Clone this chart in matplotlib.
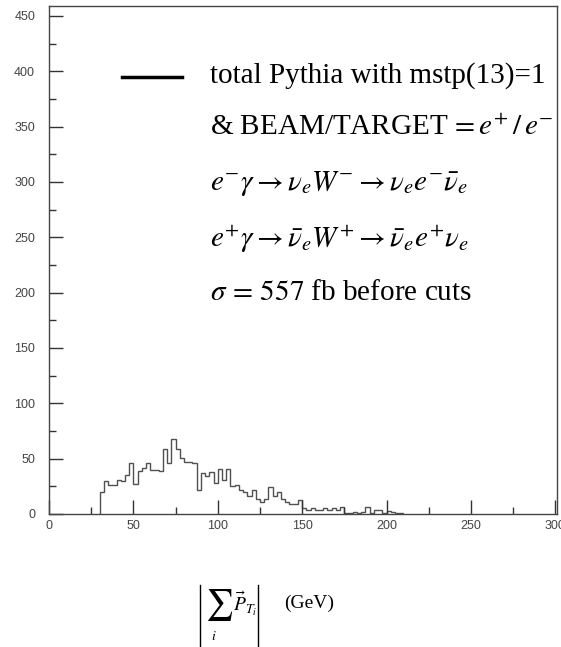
import numpy as np
import matplotlib
matplotlib.use("Agg")
import matplotlib.pyplot as plt
from matplotlib.lines import Line2D
from matplotlib.ticker import MultipleLocator

plt.rcParams["mathtext.fontset"] = "stix"

# Histogram of |sum p_T| in 2.5 GeV bins starting at 30 GeV
bin_start = 30.0
bin_width = 2.5
counts = [
    20, 30, 26, 26, 31, 30, 35, 46, 27, 39, 42, 46,
    40, 40, 39, 59, 46, 68, 59, 51, 47, 47, 46, 22,
    37, 34, 38, 28, 41, 31, 41, 25, 26, 22, 20, 16,
    22, 14, 11, 14, 24, 16, 20, 14, 11, 9, 9, 13,
    5, 4, 5, 4, 4, 5, 4, 5, 4, 6, 1, 1,
    2, 1, 2, 6, 1, 4, 4, 1, 3, 2, 1, 1,
]
edges = bin_start + bin_width * np.arange(len(counts) + 1)

legend_lines = [
    "total Pythia with mstp(13)=1",
    r"& BEAM/TARGET$\,=e^{+}\,/\,e^{-}$",
    r"$e^{-}\gamma \rightarrow \nu_{e}W^{-} \rightarrow \nu_{e}e^{-}\bar{\nu}_{e}$",
    r"$e^{+}\gamma \rightarrow \bar{\nu}_{e}W^{+} \rightarrow \bar{\nu}_{e}e^{+}\nu_{e}$",
    r"$\sigma\, =\, 557$ fb before cuts",
]

W, H = 561, 647
fig = plt.figure(figsize=(W / 100, H / 100), dpi=100)
ax = fig.add_axes([49 / W, 1 - 514 / H, (557 - 49) / W, (514 - 6) / H])

ax.stairs(counts, edges, color="#505050", linewidth=1.0)

ax.set_xlim(0, 301)
ax.set_ylim(0, 459)
ax.xaxis.set_major_locator(MultipleLocator(50))
ax.xaxis.set_minor_locator(MultipleLocator(25))
ax.yaxis.set_major_locator(MultipleLocator(50))
ax.yaxis.set_minor_locator(MultipleLocator(25))
ax.tick_params(which="major", direction="in", length=10, width=1, color="#333333",
               labelsize=9, labelcolor="#444444", top=False, right=False)
ax.tick_params(which="minor", direction="in", length=5, width=1, color="#333333",
               top=False, right=False)
ax.tick_params(axis="x", pad=4)
ax.tick_params(axis="y", pad=10)
for lab in ax.get_xticklabels() + ax.get_yticklabels():
    lab.set_fontfamily("Liberation Sans")
for s in ax.spines.values():
    s.set_color("#444444")
    s.set_linewidth(1.0)


def fx(px):
    return px / W


def fy(py):
    return 1 - py / H


# legend block
fig.add_artist(Line2D([fx(122), fx(182)], [fy(77), fy(77)],
                      color="black", linewidth=2.5))
ys = [76, 128, 183, 240, 293]
for txt, y in zip(legend_lines, ys):
    fig.text(fx(210), fy(y), txt, family="Liberation Serif", fontsize=21,
             ha="left", va="center", color="black")

# x-axis label: |sum_i P_Ti| (GeV), set in display style
for xb in (200, 258):
    fig.add_artist(Line2D([fx(xb), fx(xb)], [fy(585), fy(650)],
                          color="black", linewidth=1.0))
fig.text(fx(219), fy(605), r"$\sum$", fontsize=22, ha="center", va="center")
fig.text(fx(214), fy(636), r"$i$", fontsize=10, ha="center", va="center")
fig.text(fx(233), fy(604), r"$\vec{P}_{T_{i}}$", fontsize=14, ha="left", va="center")
fig.text(fx(284), fy(603), "(GeV)", family="Liberation Serif", fontsize=14,
         ha="left", va="center")

fig.savefig("out.png", dpi=100)
